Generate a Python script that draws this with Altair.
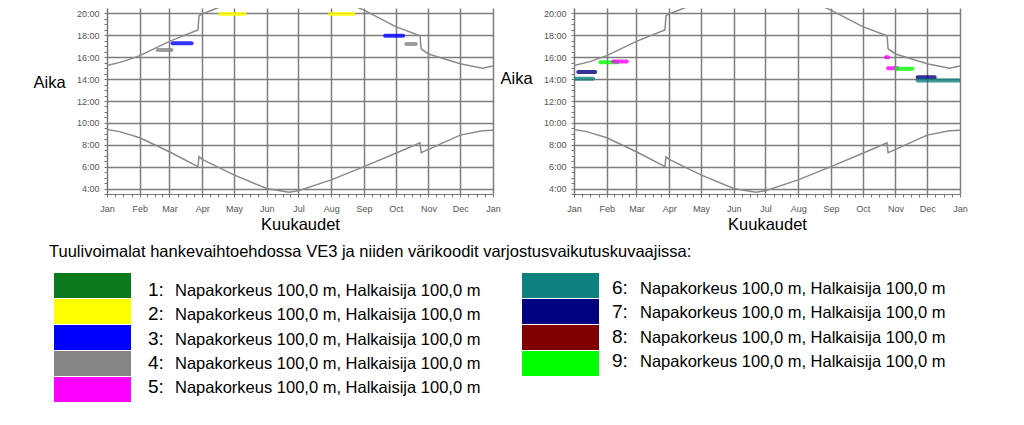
import altair as alt
import pandas as pd

FONT = "Liberation Sans"

# ---------------- data ----------------
month_labels = ["Jan", "Feb", "Mar", "Apr", "May", "Jun", "Jul", "Aug", "Sep", "Oct", "Nov", "Dec", "Jan"]
month_starts = [0, 31, 59, 90, 120, 151, 181, 212, 243, 273, 304, 334, 365]

# sunset / sunrise (day of year, hour of day)
sunset_day = [0, 15, 31, 59, 86, 87, 90, 120, 151, 172, 181, 212, 223, 243, 273, 296, 297, 304, 334, 355, 365]
sunset_hour = [15.25, 15.6, 16.15, 17.45, 18.5, 19.8, 19.95, 21.1, 22.3, 22.6, 22.5, 21.6, 21.15, 20.3, 18.8, 17.97, 16.76, 16.3, 15.4, 15.0, 15.2]
sunrise_day = [0, 12, 31, 59, 86, 87, 90, 120, 151, 172, 181, 212, 243, 273, 296, 297, 304, 334, 355, 365]
sunrise_hour = [9.4, 9.2, 8.64, 7.36, 6.0, 6.9, 6.67, 5.25, 4.0, 3.67, 3.8, 4.79, 6.0, 7.22, 8.18, 7.27, 7.58, 8.88, 9.27, 9.33]

# shadow flicker periods, left panel
left_turbine = [1, 2, 2, 3, 3, 4, 4]
left_start = [137, 107, 211, 62, 263, 48, 283]
left_end = [205, 130, 233, 80, 280, 61, 292]
left_hour = [21.1, 19.95, 19.95, 17.27, 17.97, 16.67, 17.22]

# shadow flicker periods, right panel
right_turbine = [7, 6, 9, 5, 5, 5, 9, 7, 6]
right_start = [4, 1, 25, 37, 295, 297, 305, 325, 325]
right_end = [20, 18, 41, 50, 297, 306, 320, 341, 364]
right_hour = [14.64, 14.04, 15.55, 15.6, 16.0, 15.0, 14.95, 14.18, 13.88]

turbine_numbers = [1, 2, 3, 4, 5, 6, 7, 8, 9]
turbine_colors = ["#0b7a1c", "#ffff00", "#0000ff", "#858585", "#ff00ff",
                  "#0f8080", "#000080", "#800000", "#00ff00"]
turbine_text = ["Napakorkeus 100,0 m, Halkaisija 100,0 m"] * 9
legend_title = "Tuulivoimalat hankevaihtoehdossa VE3 ja niiden värikoodit varjostusvaikutuskuvaajissa:"
x_title = "Kuukaudet"
y_title = "Aika"

# ---------------- tables ----------------
curve_df = pd.DataFrame({
    "day": sunset_day + sunrise_day,
    "hour": sunset_hour + sunrise_hour,
    "curve": ["sunset"] * len(sunset_day) + ["sunrise"] * len(sunrise_day),
    "idx": list(range(len(sunset_day))) + list(range(len(sunrise_day))),
})


def blob_df(t, s, e, h):
    return pd.DataFrame({"turbine": t, "start": s, "end": e, "hour": h})


def legend_part(nums):
    return pd.DataFrame({
        "num": nums,
        "numlabel": [f"{n}:" for n in nums],
        "text": [turbine_text[n - 1] for n in nums],
        "col": [0] * len(nums),
        "row": list(range(len(nums))),
    })


# ---------------- axes ----------------
x_tick_values = []
for a, b in zip(month_starts[:-1], month_starts[1:]):
    x_tick_values += [a + (b - a) * k / 4 for k in range(4)]
x_tick_values.append(month_starts[-1])

starts_js = "[" + ",".join(str(v) for v in month_starts) + "]"
labels_js = "[" + ",".join(f"'{m}'" for m in month_labels) + "]"
x_test = f"indexof({starts_js}, datum.value) >= 0"
x_label_expr = f"{x_test} ? {labels_js}[indexof({starts_js}, datum.value)] : ''"

y_tick_values = [3.5 + 0.5 * i for i in range(34)]
y_test = "datum.value % 2 == 0"
y_label_expr = f"{y_test} ? datum.value + ':00' : ''"

AX = "#777777"
GRID = "#7d7d7d"

x_scale = alt.Scale(domain=[0, 365], nice=False, zero=False)
y_scale = alt.Scale(domain=[3.5, 20.5], nice=False, zero=False)
color_scale = alt.Scale(domain=turbine_numbers, range=turbine_colors)


def make_axes(title_y):
    x_axis = alt.Axis(
        values=x_tick_values, labelExpr=x_label_expr, labelOverlap=False, labelFlush=False,
        tickSize=3, tickColor=AX, domainColor=AX, gridColor=GRID, gridWidth=1.5,
        gridOpacity={"condition": {"test": x_test, "value": 1}, "value": 0},
        labelFont=FONT, labelFontSize=9, labelColor="#555555", labelPadding=7,
        title=x_title, titleFont=FONT, titleFontSize=16.5, titleFontWeight="normal",
        titleColor="black", titleBaseline="alphabetic", titleY=35.5,
    )
    y_axis = alt.Axis(
        values=y_tick_values, labelExpr=y_label_expr, labelOverlap=False,
        tickSize=3, tickColor=AX, domainColor=AX, gridColor=GRID, gridWidth=1.5,
        gridOpacity={"condition": {"test": y_test, "value": 1}, "value": 0},
        labelFont=FONT, labelFontSize=9, labelColor="#555555", labelPadding=5,
        title=y_title, titleFont=FONT, titleFontSize=16.5, titleFontWeight="normal",
        titleColor="black", titleAngle=0, titleAlign="left", titleBaseline="alphabetic",
        titleX=-74, titleY=title_y,
    )
    return x_axis, y_axis


def panel(bdf, title_y):
    x_axis, y_axis = make_axes(title_y)
    lines = alt.Chart(curve_df).mark_line(color="#8a8a8a", strokeWidth=1.5, clip=True).encode(
        x=alt.X("day:Q", scale=x_scale, axis=x_axis),
        y=alt.Y("hour:Q", scale=y_scale, axis=y_axis),
        detail="curve:N",
        order="idx:Q",
    )
    blobs = alt.Chart(bdf).mark_rule(strokeWidth=4, opacity=0.8, strokeCap="round", clip=True).encode(
        x=alt.X("start:Q", scale=x_scale, axis=x_axis),
        x2="end:Q",
        y=alt.Y("hour:Q", scale=y_scale, axis=y_axis),
        color=alt.Color("turbine:N", scale=color_scale, legend=None),
    )
    return alt.layer(lines, blobs).properties(width=386, height=186)


left = panel(blob_df(left_turbine, left_start, left_end, left_hour), 79)
right = panel(blob_df(right_turbine, right_start, right_end, right_hour), 75)


# ---------------- legend block ----------------
def legend_chart(nums, sw_range, num_x, txt_x, text_y0, title=None):
    df = legend_part(nums)
    n = len(nums)
    rows = list(range(n))
    swatches = alt.Chart(df).mark_rect().encode(
        x=alt.X("col:O", axis=None,
                scale=alt.Scale(type="band", domain=[0], range=sw_range, paddingInner=0, paddingOuter=0)),
        y=alt.Y("row:O", axis=None,
                scale=alt.Scale(type="band", domain=rows, range=[8, 8 + 26 * n - 1],
                                paddingInner=1 / 26, paddingOuter=0)),
        color=alt.Color("num:N", scale=color_scale, legend=None),
    )
    ty = alt.Scale(type="point", domain=rows, range=[text_y0, text_y0 + 24.3 * (n - 1)], padding=0)
    numbers = alt.Chart(df).mark_text(align="left", baseline="alphabetic", font=FONT, fontSize=19,
                                      color="black").encode(
        x=alt.X("col:Q", axis=None, scale=alt.Scale(domain=[0, 1], range=[num_x, num_x + 1])),
        y=alt.Y("row:O", axis=None, scale=ty),
        text="numlabel:N",
    )
    texts = alt.Chart(df).mark_text(align="left", baseline="alphabetic", font=FONT, fontSize=16.5,
                                    color="black").encode(
        x=alt.X("col:Q", axis=None, scale=alt.Scale(domain=[0, 1], range=[txt_x, txt_x + 1])),
        y=alt.Y("row:O", axis=None, scale=ty),
        text="text:N",
    )
    ch = alt.layer(swatches, numbers, texts).resolve_scale(x="independent", y="independent")
    props = dict(width=386, height=140)
    if title is not None:
        props["title"] = alt.TitleParams(title, anchor="start", frame="group", orient="top", offset=7,
                                         dx=-58, dy=15, baseline="alphabetic", font=FONT, fontSize=16.5,
                                         fontWeight="normal", color="black")
    return ch.properties(**props)


legend_left = legend_chart([1, 2, 3, 4, 5], [-53, 24], 41, 68, 31, title=legend_title)
legend_right = legend_chart([6, 7, 8, 9], [-52, 25], 38, 66, 29)

chart = alt.concat(
    left, right, legend_left, legend_right,
    columns=2, bounds="flush", spacing={"row": 71, "column": 81},
).properties(
    padding={"left": 25, "top": 0, "right": 0, "bottom": 0},
).configure_view(stroke=None)

chart.save("out.html", embed_options={"renderer": "svg", "actions": False})
